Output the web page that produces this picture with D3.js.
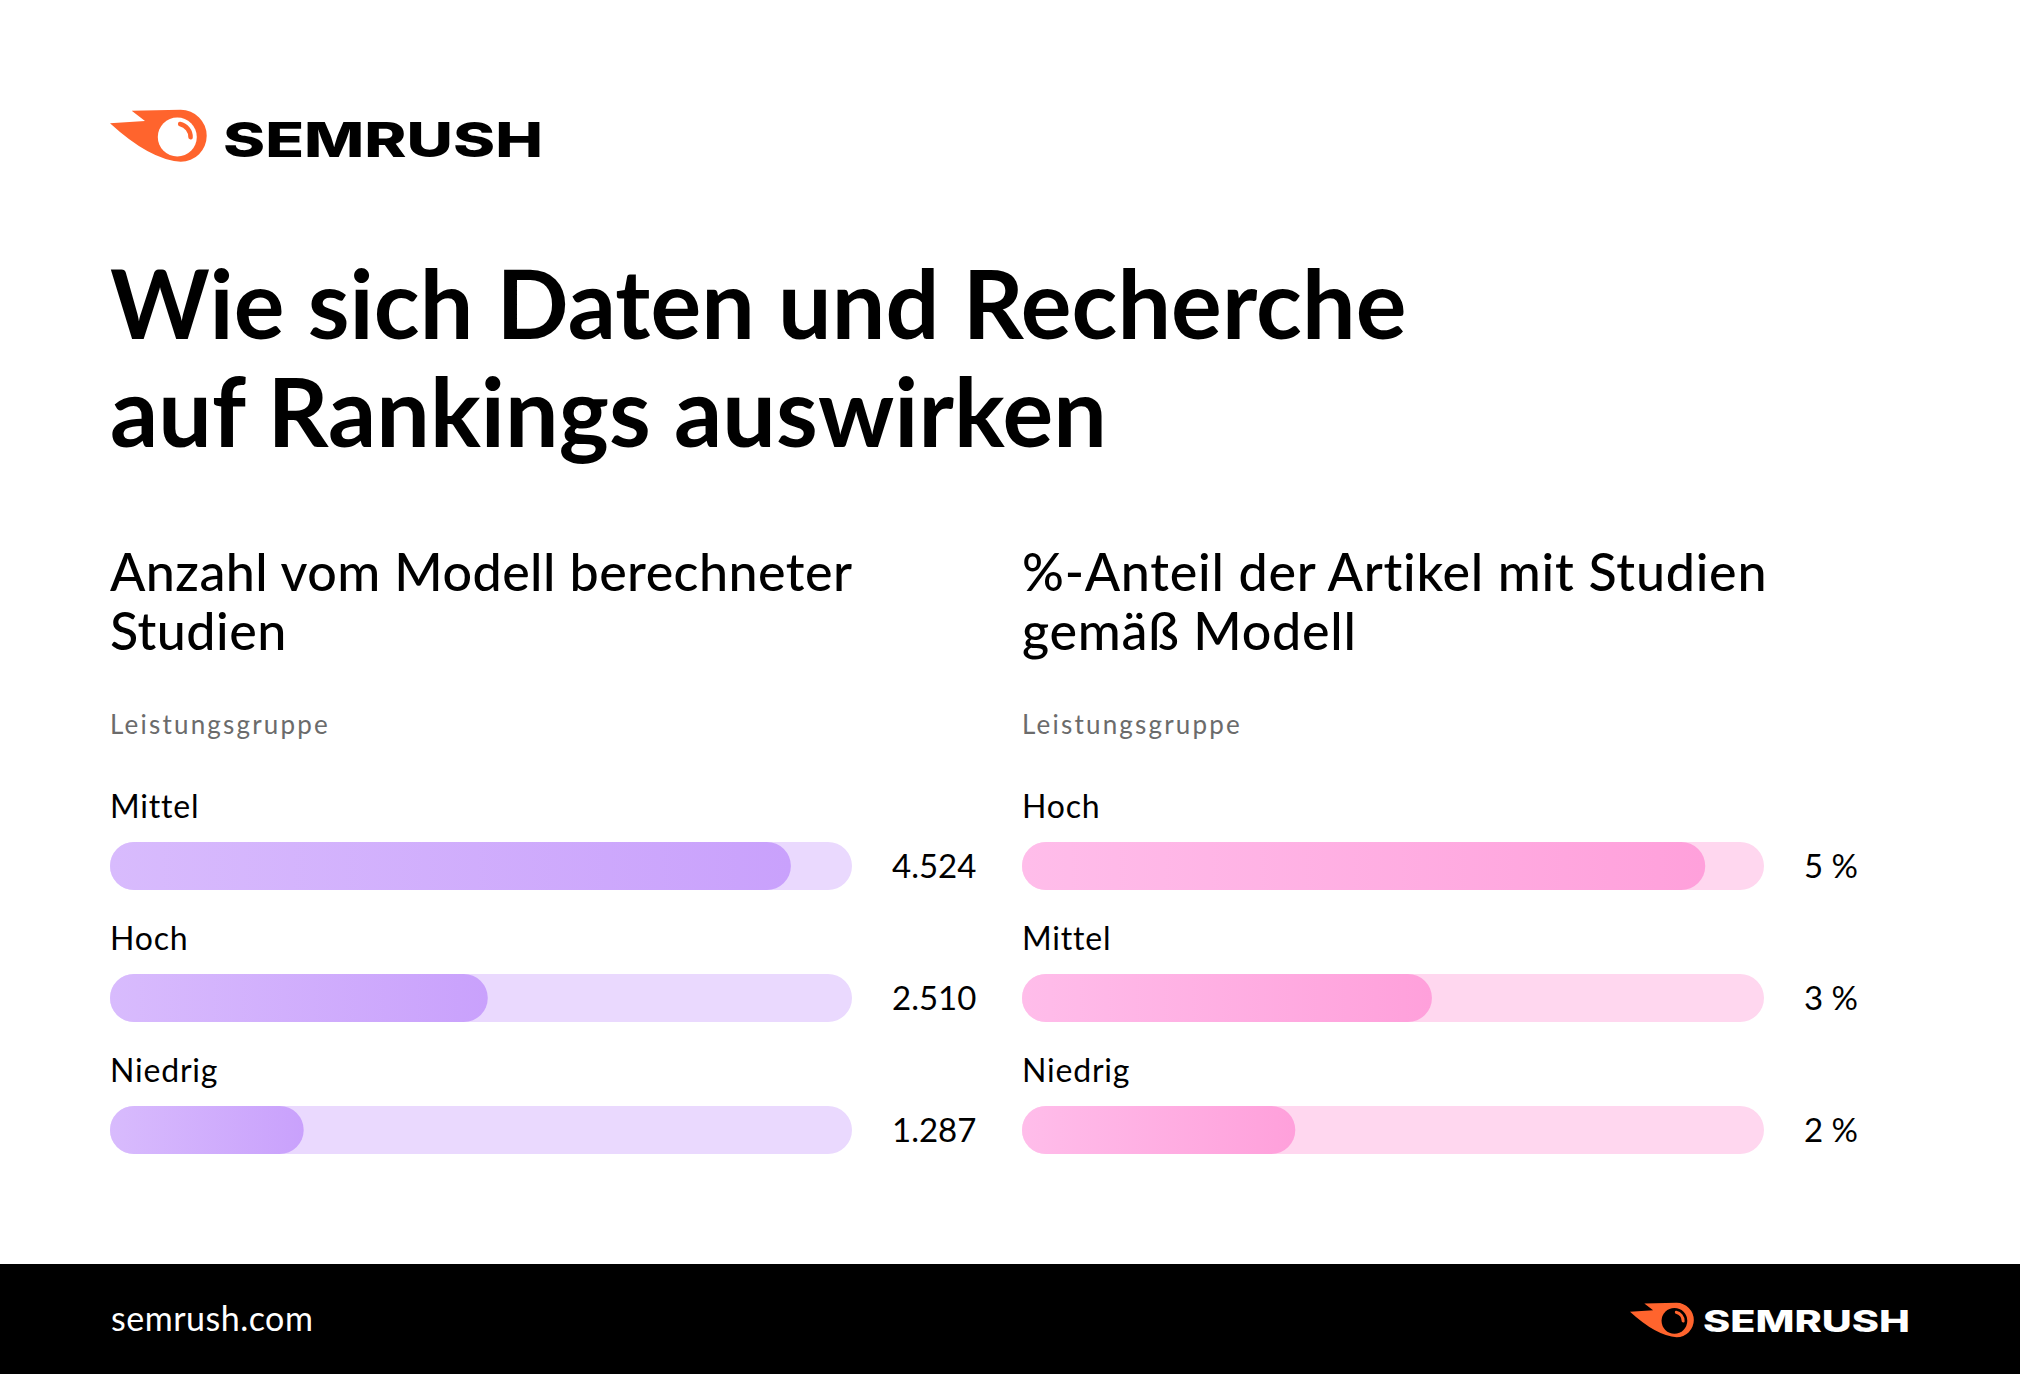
<!DOCTYPE html>
<html><head><meta charset="utf-8">
<script src="https://cdn.jsdelivr.net/npm/d3@7"></script>
<style>html,body{margin:0;padding:0;background:#fff;}svg{display:block;}</style>
</head><body>
<svg id="chart" width="2020" height="1374"></svg>
<script>
// ---- data ----
const titleLines = ["Wie sich Daten und Recherche", "auf Rankings auswirken"];
const leftTitle = ["Anzahl vom Modell berechneter", "Studien"];
const rightTitle = ["%-Anteil der Artikel mit Studien", "gemäß Modell"];
const groupLabel = "Leistungsgruppe";
const leftCategories = ["Mittel", "Hoch", "Niedrig"];
const leftValues = [4524, 2510, 1287];
const leftValueLabels = ["4.524", "2.510", "1.287"];
const leftMax = 4930;
const rightCategories = ["Hoch", "Mittel", "Niedrig"];
const rightValues = [5, 3, 2];
const rightValueLabels = ["5\u202F%", "3\u202F%", "2\u202F%"];
const rightMax = 5.43;
const footerText = "semrush.com";
const brand = "SEMRUSH";

const svg = d3.select("#chart");
const FONT = "Lato, 'Noto Sans', sans-serif";
const ORANGE = "#FF642D";

svg.append("rect").attr("width", 2020).attr("height", 1374).attr("fill", "#fff");

// gradients
const defs = svg.append("defs");
function grad(id, c0, c1) {
  const g = defs.append("linearGradient").attr("id", id).attr("x1", "0").attr("x2", "1").attr("y1", "0").attr("y2", "0");
  g.append("stop").attr("offset", "0").attr("stop-color", c0);
  g.append("stop").attr("offset", "1").attr("stop-color", c1);
}
grad("gPurple", "#D8BBFD", "#C9A1FC");
grad("gPink", "#FFBDEA", "#FFA0DB");

// ---- logo ----
function logo(x, y, s, inner, textColor, tx, ty, tw, tsize) {
  const g = svg.append("g").attr("transform", `translate(${x},${y}) scale(${s})`);
  g.append("path").attr("fill", ORANGE)
    .attr("d", "M21.7,0.7 L70.7,-0.2 A26,26 0 1 1 70.7,51.8 Q40,50 0,13.3 L35,11 Z");
  g.append("circle").attr("cx", 67.3).attr("cy", 27).attr("r", 19.5).attr("fill", inner);
  g.append("path").attr("fill", ORANGE).attr("transform", "translate(67.3,27)")
    .attr("d", d3.arc().innerRadius(11).outerRadius(15.5).startAngle(0.05).endAngle(1.75).cornerRadius(2)());
  svg.append("text").attr("x", tx).attr("y", ty).attr("font-family", "Inter, " + FONT)
    .attr("font-weight", 800).attr("font-size", tsize).attr("fill", textColor)
    .attr("textLength", tw).attr("lengthAdjust", "spacingAndGlyphs").text(brand);
}
logo(110, 110, 1, "#fff", "#000", 223, 157, 320, 48);

// ---- title ----
svg.append("g").selectAll("text").data(titleLines).join("text")
  .attr("x", 110).attr("y", (d, i) => 339 + i * 108)
  .attr("font-family", FONT).attr("font-weight", 700).attr("font-size", 95)
  .attr("letter-spacing", 0.1).attr("fill", "#000").text(d => d);

// ---- panels ----
function panel(x0, titles, cats, vals, labels, maxV, gradId, trackColor, ls) {
  const g = svg.append("g");
  g.selectAll("text.t").data(titles).join("text").attr("class", "t")
    .attr("x", x0).attr("y", (d, i) => 591 + i * 59)
    .attr("font-family", FONT).attr("font-weight", 500).attr("font-size", 52)
    .attr("letter-spacing", ls).attr("fill", "#000").text(d => d);
  g.append("text").attr("x", x0).attr("y", 734).attr("font-family", FONT)
    .attr("font-size", 26).attr("letter-spacing", 2.2).attr("fill", "#6B6B6B").text(groupLabel);

  const trackW = 742;
  const x = d3.scaleLinear().domain([0, maxV]).range([0, trackW]);
  const y = d3.scaleBand().domain(cats).range([795, 795 + 132 * cats.length]).padding(0);
  const h = 48;
  const rows = g.selectAll("g.row").data(cats).join("g").attr("class", "row")
    .attr("transform", d => `translate(${x0},${y(d)})`);
  rows.append("text").attr("x", 0).attr("y", 23).attr("font-family", FONT)
    .attr("font-size", 32).attr("letter-spacing", 0.8).attr("fill", "#000").text(d => d);
  rows.append("rect").attr("x", 0).attr("y", 47).attr("width", x(maxV)).attr("height", h)
    .attr("rx", h / 2).attr("fill", trackColor);
  rows.append("rect").attr("x", 0).attr("y", 47).attr("width", (d, i) => x(vals[i])).attr("height", h)
    .attr("rx", h / 2).attr("fill", `url(#${gradId})`);
  rows.append("text").attr("x", trackW + 40).attr("y", 83).attr("font-family", FONT)
    .attr("font-size", 33).attr("fill", "#000").text((d, i) => labels[i]);
}
panel(110, leftTitle, leftCategories, leftValues, leftValueLabels, leftMax, "gPurple", "#EAD9FE", 0.45);
panel(1022, rightTitle, rightCategories, rightValues, rightValueLabels, rightMax, "gPink", "#FFD7EF", 0.75);

// ---- footer ----
svg.append("rect").attr("x", 0).attr("y", 1264).attr("width", 2020).attr("height", 110).attr("fill", "#000");
svg.append("text").attr("x", 111).attr("y", 1331).attr("font-family", FONT)
  .attr("font-size", 34).attr("letter-spacing", 0.5).attr("fill", "#fff").text(footerText);
logo(1630, 1303, 0.66, "#000", "#fff", 1703, 1332, 207, 30);
</script>
</body></html>
